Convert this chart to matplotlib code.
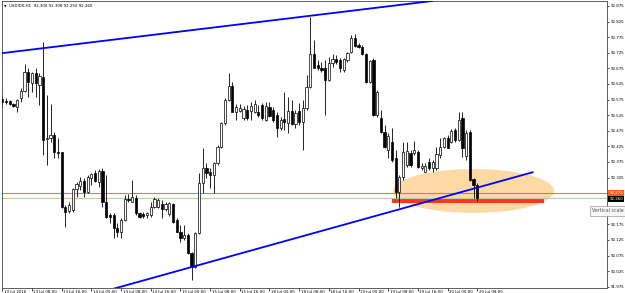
import matplotlib
matplotlib.use("Agg")
import matplotlib.pyplot as plt
from matplotlib.patches import Rectangle, Ellipse
from matplotlib.transforms import blended_transform_factory

# chart header
symbol = "USDIDX,H1"
header_ohlc = "92.300 92.308 92.250 92.260"

# hourly candles
opens = [92.576, 92.571, 92.571, 92.562, 92.552, 92.579, 92.602, 92.664, 92.627, 92.659,
         92.622, 92.648, 92.449, 92.451, 92.461, 92.408, 92.406, 92.231, 92.218, 92.221,
         92.287, 92.298, 92.314, 92.278, 92.323, 92.339, 92.312, 92.346, 92.246, 92.205,
         92.205, 92.162, 92.151, 92.189, 92.256, 92.248, 92.260, 92.210, 92.207, 92.205,
         92.205, 92.231, 92.231, 92.240, 92.224, 92.208, 92.240, 92.189, 92.151, 92.130,
         92.141, 92.082, 92.039, 92.146, 92.307, 92.355, 92.344, 92.333, 92.371, 92.424,
         92.499, 92.574, 92.618, 92.536, 92.538, 92.515, 92.541, 92.538, 92.536, 92.536,
         92.557, 92.509, 92.552, 92.541, 92.525, 92.485, 92.512, 92.499, 92.538, 92.496,
         92.538, 92.504, 92.547, 92.616, 92.720, 92.686, 92.677, 92.675, 92.638, 92.691,
         92.705, 92.702, 92.670, 92.702, 92.728, 92.771, 92.750, 92.744, 92.720, 92.632,
         92.702, 92.525, 92.515, 92.472, 92.413, 92.440, 92.388, 92.279, 92.327, 92.365,
         92.403, 92.403, 92.408, 92.355, 92.344, 92.376, 92.356, 92.355, 92.397, 92.424,
         92.451, 92.440, 92.477, 92.445, 92.515, 92.394, 92.470, 92.320, 92.300]
highs = [92.590, 92.580, 92.574, 92.564, 92.577, 92.613, 92.688, 92.675, 92.663, 92.675,
         92.660, 92.760, 92.590, 92.560, 92.472, 92.453, 92.408, 92.237, 92.248, 92.292,
         92.312, 92.328, 92.323, 92.333, 92.340, 92.349, 92.351, 92.355, 92.333, 92.210,
         92.210, 92.178, 92.194, 92.269, 92.271, 92.317, 92.269, 92.215, 92.213, 92.215,
         92.247, 92.264, 92.258, 92.253, 92.247, 92.247, 92.244, 92.195, 92.173, 92.173,
         92.147, 92.086, 92.151, 92.339, 92.419, 92.371, 92.356, 92.376, 92.429, 92.504,
         92.580, 92.659, 92.632, 92.561, 92.561, 92.554, 92.557, 92.568, 92.574, 92.557,
         92.564, 92.568, 92.568, 92.552, 92.536, 92.520, 92.598, 92.584, 92.574, 92.541,
         92.564, 92.574, 92.654, 92.840, 92.766, 92.702, 92.695, 92.702, 92.712, 92.720,
         92.718, 92.707, 92.709, 92.728, 92.782, 92.784, 92.756, 92.750, 92.724, 92.702,
         92.708, 92.606, 92.541, 92.493, 92.468, 92.483, 92.413, 92.333, 92.440, 92.440,
         92.413, 92.442, 92.413, 92.372, 92.372, 92.388, 92.381, 92.424, 92.452, 92.456,
         92.461, 92.481, 92.484, 92.536, 92.536, 92.477, 92.477, 92.323, 92.308]
lows = [92.552, 92.561, 92.557, 92.551, 92.536, 92.568, 92.600, 92.584, 92.600, 92.584,
        92.557, 92.397, 92.365, 92.440, 92.387, 92.387, 92.229, 92.167, 92.210, 92.215,
        92.264, 92.285, 92.264, 92.274, 92.301, 92.312, 92.296, 92.231, 92.194, 92.178,
        92.130, 92.135, 92.130, 92.186, 92.248, 92.246, 92.205, 92.194, 92.194, 92.194,
        92.199, 92.229, 92.227, 92.194, 92.218, 92.202, 92.178, 92.150, 92.119, 92.125,
        92.080, 91.997, 92.034, 92.144, 92.274, 92.323, 92.290, 92.274, 92.365, 92.420,
        92.493, 92.570, 92.535, 92.509, 92.535, 92.509, 92.509, 92.509, 92.532, 92.519,
        92.509, 92.506, 92.519, 92.504, 92.456, 92.477, 92.477, 92.467, 92.493, 92.483,
        92.493, 92.413, 92.541, 92.612, 92.675, 92.670, 92.663, 92.525, 92.634, 92.680,
        92.689, 92.664, 92.664, 92.696, 92.723, 92.744, 92.739, 92.718, 92.628, 92.629,
        92.522, 92.519, 92.467, 92.420, 92.388, 92.376, 92.258, 92.231, 92.317, 92.360,
        92.359, 92.397, 92.355, 92.349, 92.343, 92.349, 92.344, 92.349, 92.388, 92.420,
        92.419, 92.436, 92.439, 92.442, 92.392, 92.381, 92.314, 92.260, 92.250]
closes = [92.566, 92.568, 92.560, 92.554, 92.574, 92.602, 92.664, 92.632, 92.659, 92.627,
          92.651, 92.445, 92.452, 92.461, 92.406, 92.403, 92.232, 92.215, 92.237, 92.288,
          92.303, 92.314, 92.278, 92.328, 92.335, 92.314, 92.346, 92.246, 92.199, 92.199,
          92.164, 92.151, 92.189, 92.256, 92.252, 92.264, 92.210, 92.199, 92.203, 92.210,
          92.231, 92.256, 92.253, 92.224, 92.240, 92.242, 92.183, 92.151, 92.130, 92.141,
          92.082, 92.039, 92.148, 92.307, 92.355, 92.339, 92.333, 92.371, 92.424, 92.499,
          92.574, 92.618, 92.536, 92.551, 92.547, 92.545, 92.515, 92.555, 92.560, 92.527,
          92.515, 92.555, 92.523, 92.509, 92.483, 92.509, 92.502, 92.538, 92.496, 92.531,
          92.503, 92.547, 92.616, 92.720, 92.677, 92.675, 92.670, 92.638, 92.691, 92.705,
          92.696, 92.675, 92.705, 92.723, 92.771, 92.748, 92.744, 92.720, 92.632, 92.698,
          92.525, 92.598, 92.472, 92.423, 92.458, 92.381, 92.279, 92.327, 92.408, 92.410,
          92.365, 92.413, 92.360, 92.362, 92.362, 92.355, 92.376, 92.399, 92.424, 92.451,
          92.421, 92.474, 92.445, 92.509, 92.419, 92.467, 92.317, 92.301, 92.260]

# time axis labels, one every 8 bars
time_labels = ["13 Jul 2016", "13 Jul 08:00", "13 Jul 16:00", "14 Jul 00:00", "14 Jul 08:00",
               "14 Jul 16:00", "15 Jul 00:00", "15 Jul 08:00", "15 Jul 16:00", "18 Jul 00:00",
               "18 Jul 08:00", "18 Jul 16:00", "19 Jul 00:00", "19 Jul 08:00", "19 Jul 16:00",
               "20 Jul 00:00", "20 Jul 08:00"]
price_ticks = [91.975, 92.025, 92.075, 92.125, 92.175, 92.225, 92.275, 92.325, 92.375, 92.425,
               92.475, 92.525, 92.575, 92.625, 92.675, 92.725, 92.775, 92.825, 92.875]
hidden_tick = 92.225  # sits under the tooltip in the screenshot

# drawn objects (bar index, price)
upper_trend_x = [-0.6, 115.8]
upper_trend_y = [92.723, 92.891]
lower_trend_x = [28.0, 142.9]
lower_trend_y = [91.962, 92.342]
zone_center = (127.0, 92.282)
zone_size = (43.4, 0.141)
support_x = [105.0, 146.0]
support_y = [92.244, 92.256]
hline_price = 92.275
bid_price = 92.260

fig = plt.figure(figsize=(6.25, 2.93), dpi=100)
ax = fig.add_axes([2 / 625, 1 - 288.3 / 293, 605 / 625, 287.3 / 293])
ax.set_xlim(-0.08, 162.95)
ax.set_ylim(91.970, 92.891)

fs = 2.9

# background objects
ax.add_patch(Ellipse(zone_center, zone_size[0], zone_size[1], facecolor="#fdd9a6",
                     edgecolor="none", zorder=0.5))
ax.add_patch(Rectangle((support_x[0], support_y[0]), support_x[1] - support_x[0],
                       support_y[1] - support_y[0], facecolor="#ff3a0c", edgecolor="none",
                       zorder=0.8))
ax.axhline(bid_price, color="#c4c4c4", lw=0.8, zorder=0.9)
ax.axhline(hline_price, color="#f4733a", lw=0.8, zorder=0.9)

# candles
w = 0.6
for i, (o, h, l, c) in enumerate(zip(opens, highs, lows, closes)):
    ax.vlines(i, l, h, color="black", lw=0.6, zorder=2)
    bottom = min(o, c)
    height = max(abs(c - o), 0.0015)
    face = "white" if c >= o else "black"
    ax.add_patch(Rectangle((i - w / 2, bottom), w, height, facecolor=face,
                           edgecolor="black", lw=0.5, zorder=3))

# trend lines
ax.plot(upper_trend_x, upper_trend_y, color="#0000ff", lw=1.3, zorder=4)
ax.plot(lower_trend_x, lower_trend_y, color="#0000ff", lw=1.3, zorder=4)

# frame
for s in ax.spines.values():
    s.set_linewidth(0.6)
    s.set_color("#444444")

ax.yaxis.tick_right()
ax.set_yticks(price_ticks)
ax.set_yticklabels(["" if p == hidden_tick else f"{p:.3f}" for p in price_ticks])
ax.tick_params(axis="y", direction="out", length=1.6, width=0.5, pad=1.2,
               labelsize=fs, colors="black")

tick_pos = list(range(0, 8 * len(time_labels), 8))
ax.set_xticks(tick_pos)
ax.set_xticklabels([])
ax.tick_params(axis="x", direction="out", length=2.2, width=0.5)
trans = blended_transform_factory(ax.transData, ax.transAxes)
for pos, lab in zip(tick_pos, time_labels):
    ax.text(pos + 0.4, -0.006, lab, transform=trans, ha="left", va="top",
            fontsize=fs, color="black", clip_on=False)

# header
ax.text(0.004, 0.988, "\u25bc", transform=ax.transAxes, fontsize=2.4, va="top", ha="left")
ax.text(0.011, 0.99, symbol + "  " + header_ohlc, transform=ax.transAxes,
        fontsize=fs, va="top", ha="left")

# price labels on the scale
tr = blended_transform_factory(ax.transAxes, ax.transData)
ax.text(1.004, hline_price, f"{hline_price:.3f}", transform=tr, fontsize=fs, color="white",
        va="center", ha="left", clip_on=False,
        bbox=dict(boxstyle="square,pad=0.25", facecolor="#ff5a24", edgecolor="none"))
ax.text(1.004, bid_price - 0.004, f"{bid_price:.3f}", transform=tr, fontsize=fs,
        color="white", va="center", ha="left", clip_on=False,
        bbox=dict(boxstyle="square,pad=0.25", facecolor="black", edgecolor="none"))

# tooltip
fig.text(592 / 625, 1 - 211 / 293, "Vertical scale", fontsize=3.4, color="#555555",
         va="center", ha="left",
         bbox=dict(boxstyle="square,pad=0.45", facecolor="#f7f7f7", edgecolor="#9a9a9a",
                   lw=0.5))

fig.savefig("out.png", dpi=100)
